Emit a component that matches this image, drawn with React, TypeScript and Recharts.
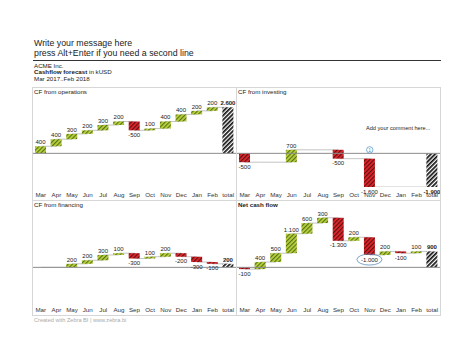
import React from 'react';
import {
    ComposedChart,
    Bar,
    Line,
    XAxis,
    YAxis,
    ReferenceLine,
    ReferenceDot,
    LabelList,
    Cell
} from 'recharts';

const months = ['Mar', 'Apr', 'May', 'Jun', 'Jul', 'Aug', 'Sep', 'Oct', 'Nov', 'Dec', 'Jan', 'Feb', 'total'];

// monthly deltas in kUSD, the total column is the running sum
const cfOperations = [400, 400, 300, 200, 300, 200, -500, 100, 400, 400, 200, 200];
const cfInvesting = [-500, 0, 0, 700, 0, 0, -500, 0, -1600, 0, 0, 0];
const cfFinancing = [0, 0, 200, 200, 300, 100, -300, 100, 200, -200, -300, -100];
const netCashFlow = [-100, 400, 500, 1100, 600, 300, -1300, 200, -1000, 200, -100, 100];

const FONT = '"Liberation Sans", Arial, sans-serif';
const GREEN = '#bdd53c';
const GREEN_STRIPE = '#55701a';
const RED = '#e3262d';
const RED_STRIPE = '#5c1010';

const fmt = (v: number) => {
    const s = Math.abs(v).toString().replace(/\B(?=(\d{3})+(?!\d))/g, '.');
    return v < 0 ? '-' + s : s;
};

interface Row {
    name: string;
    range: [number, number];
    delta: number;
    end: number;
    kind: string;
}

const buildRows = (values: number[]): Row[] => {
    let cum = 0;
    const rows: Row[] = values.map((v, i) => {
        const start = cum;
        cum += v;
        return {
            name: months[i],
            range: [Math.min(start, cum), Math.max(start, cum)],
            delta: v,
            end: cum,
            kind: v >= 0 ? 'pos' : 'neg'
        };
    });
    rows.push({ name: months[12], range: [Math.min(0, cum), Math.max(0, cum)], delta: cum, end: cum, kind: 'total' });
    return rows;
};

// label content looks the row up by category name (zero-height bars get skipped by recharts)
const makeLabel = (rows: Row[], circled?: string) => (p: any) => {
    const { x, y, width, height, value } = p;
    const r = rows.find(d => d.name === value);
    if (!r || r.delta === 0) return null;
    const cx = Number(x) + Number(width) / 2;
    const ty = r.delta > 0 ? Number(y) - 2.2 : Number(y) + Number(height) + 6.6;
    return (
        <g>
            {r.name === circled && (
                <ellipse cx={cx} cy={ty - 2} rx={12.5} ry={5.5} fill="none" stroke="#5b8db8" strokeWidth={0.8} />
            )}
            <text
                x={cx}
                y={ty}
                textAnchor="middle"
                fontSize={6}
                fontFamily={FONT}
                fontWeight={r.kind === 'total' ? 700 : 400}
                fill="#222"
            >
                {fmt(r.delta)}
            </text>
        </g>
    );
};

interface PanelProps {
    id: string;
    title: string;
    bold?: boolean;
    values: number[];
    left: number;
    top: number;
    height: number;
    marginTop: number;
    tickMargin: number;
    circled?: string;
    children?: React.ReactNode;
}

const Panel: React.FC<PanelProps> = ({ id, title, bold, values, left, top, height, marginTop, tickMargin, circled, children }) => {
    const rows = buildRows(values);
    const w = 205;
    return (
        <div
            style={{
                position: 'absolute',
                left,
                top,
                width: w,
                height,
                border: '1px solid #d6d6d6',
                boxSizing: 'border-box'
            }}
        >
            <div
                style={{
                    position: 'absolute',
                    left: 1,
                    top: 0,
                    fontSize: 6.2,
                    lineHeight: '7px',
                    fontWeight: bold ? 700 : 400,
                    color: '#222',
                    whiteSpace: 'nowrap'
                }}
            >
                {title}
            </div>
            <ComposedChart width={w - 2} height={height - 2} data={rows} margin={{ top: marginTop, right: 0, bottom: 0, left: 0 }}>
                <defs>
                    <pattern id={`${id}-pos`} width={3} height={3} patternUnits="userSpaceOnUse" patternTransform="rotate(45)">
                        <rect width={3} height={3} fill={GREEN} />
                        <rect width={1.2} height={3} fill={GREEN_STRIPE} />
                    </pattern>
                    <pattern id={`${id}-neg`} width={3} height={3} patternUnits="userSpaceOnUse" patternTransform="rotate(45)">
                        <rect width={3} height={3} fill={RED} />
                        <rect width={1.2} height={3} fill={RED_STRIPE} />
                    </pattern>
                    <pattern id={`${id}-total`} width={3} height={3} patternUnits="userSpaceOnUse" patternTransform="rotate(45)">
                        <rect width={3} height={3} fill="#fff" />
                        <rect width={1.7} height={3} fill="#111" />
                    </pattern>
                </defs>
                <XAxis
                    dataKey="name"
                    interval={0}
                    axisLine={false}
                    tickLine={false}
                    tickSize={0}
                    tickMargin={tickMargin}
                    height={height - 2 - marginTop - 85}
                    tick={{ fontSize: 6.2, fill: '#333', fontFamily: FONT }}
                />
                <YAxis hide domain={[-1900, 2900]} allowDataOverflow />
                <ReferenceLine y={0} stroke="#8c8c8c" strokeWidth={1} />
                <Line
                    type="stepAfter"
                    dataKey="end"
                    stroke="#b5b5b5"
                    strokeWidth={0.8}
                    dot={false}
                    activeDot={false}
                    isAnimationActive={false}
                    zIndex={250}
                />
                <Bar dataKey="range" barSize={11} isAnimationActive={false} zIndex={300}>
                    {rows.map((r, i) => (
                        <Cell key={i} fill={`url(#${id}-${r.kind})`} />
                    ))}
                    <LabelList dataKey="name" content={makeLabel(rows, circled)} />
                </Bar>
                {children}
            </ComposedChart>
        </div>
    );
};

export default function App() {
    return (
        <div style={{ position: 'absolute', left: 0, top: 0, width: 474, height: 355, fontFamily: FONT, background: '#fff' }}>
            <div style={{ position: 'absolute', left: 34, top: 38, fontSize: 8.8, lineHeight: '10.4px', color: '#222', whiteSpace: 'nowrap' }}>
                Write your message here
                <br />
                press Alt+Enter if you need a second line
            </div>
            <div style={{ position: 'absolute', left: 33, top: 60, width: 408, borderTop: '1px solid #333' }} />
            <div style={{ position: 'absolute', left: 34, top: 62.8, fontSize: 6.2, lineHeight: '6.4px', color: '#222', whiteSpace: 'nowrap' }}>
                ACME Inc.
                <br />
                <b>Cashflow forecast</b> in kUSD
                <br />
                Mar 2017..Feb 2018
            </div>

            <Panel id="op" title="CF from operations" values={cfOperations} left={32} top={87} height={114} marginTop={14} tickMargin={6} />
            <Panel id="inv" title="CF from investing" values={cfInvesting} left={236} top={87} height={114} marginTop={14} tickMargin={6}>
                <ReferenceDot
                    x="Nov"
                    y={0}
                    r={3}
                    shape={(p: any) => (
                        <g>
                            <circle cx={p.cx} cy={p.cy - 3.5} r={3.2} fill="#fff" stroke="#4d8ec4" strokeWidth={0.7} />
                            <text x={p.cx} y={p.cy - 1.6} textAnchor="middle" fontSize={5} fill="#4d8ec4" fontFamily={FONT}>
                                1
                            </text>
                        </g>
                    )}
                />
            </Panel>
            <Panel id="fin" title="CF from financing" values={cfFinancing} left={32} top={200} height={116} marginTop={15} tickMargin={7} />
            <Panel id="net" title="Net cash flow" bold values={netCashFlow} left={236} top={200} height={116} marginTop={15} tickMargin={7} circled="Nov" />

            <div style={{ position: 'absolute', left: 366, top: 124.5, fontSize: 5.6, lineHeight: '6px', color: '#222', whiteSpace: 'nowrap' }}>
                Add your comment here...
            </div>
            <div style={{ position: 'absolute', left: 34, top: 317, fontSize: 5.6, lineHeight: '6px', color: '#aaa', whiteSpace: 'nowrap' }}>
                Created with Zebra BI | www.zebra.bi
            </div>
        </div>
    );
}
